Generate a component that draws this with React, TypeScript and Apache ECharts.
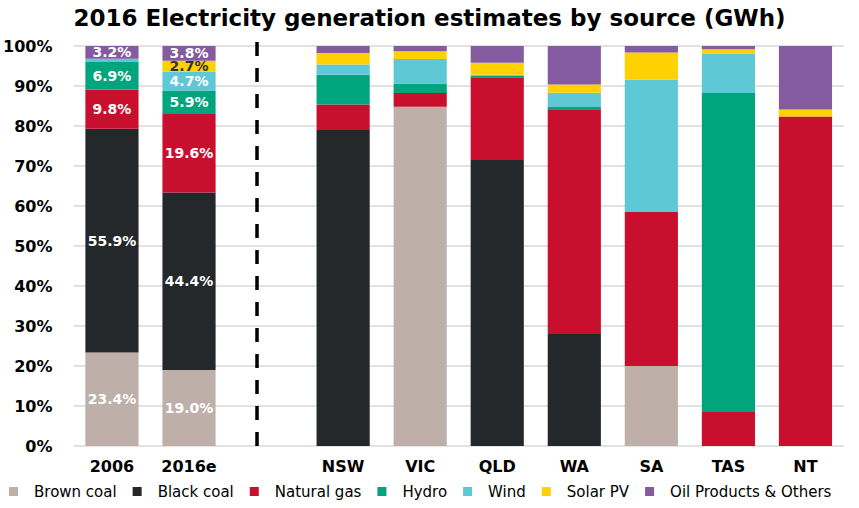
import React, { useEffect, useRef } from "react";
import * as echarts from "echarts";

const categories = ["2006", "2016e", "", "NSW", "VIC", "QLD", "WA", "SA", "TAS", "NT"];
const seriesNames = ["Brown coal", "Black coal", "Natural gas", "Hydro", "Wind", "Solar PV", "Oil Products & Others"];
const colors = ["#BEB0A8", "#25282B", "#C8102E", "#00A57D", "#5FC8D6", "#FFD100", "#845BA0"];

const brownCoal = [23.4, 19.0, null, 0, 84.8, 0, 0, 20.0, 0, 0];
const blackCoal = [55.9, 44.4, null, 79.0, 0, 71.5, 28.0, 0, 0, 0];
const naturalGas = [9.8, 19.6, null, 6.4, 3.45, 20.7, 56.2, 38.5, 8.5, 82.4];
const hydro = [6.9, 5.9, null, 7.4, 2.35, 0.4, 0.55, 0, 79.75, 0];
const wind = [0.8, 4.7, null, 2.6, 6.15, 0.2, 3.55, 33.1, 9.85, 0];
const solarPV = [0, 2.7, null, 2.85, 1.95, 3.0, 2.1, 6.8, 1.1, 1.7];
const oilOthers = [3.2, 3.8, null, 1.75, 1.3, 4.2, 9.6, 1.6, 0.8, 15.9];

const yTicks = [0, 10, 20, 30, 40, 50, 60, 70, 80, 90, 100];

const FONT = "DejaVu Sans";

export default function App() {
  const ref = useRef<HTMLDivElement>(null);
  useEffect(() => {
    if (!ref.current) return;
    const chart = echarts.init(ref.current, undefined, { renderer: "svg" });
    const all = [brownCoal, blackCoal, naturalGas, hydro, wind, solarPV, oilOthers];
    const series = all.map((arr, si) => ({
      name: seriesNames[si],
      type: "bar",
      stack: "total",
      barWidth: "69%",
      itemStyle: { color: colors[si] },
      data: arr.map((v, ci) => {
        const showLabel = ci < 2 && v != null && v >= 1;
        return {
          value: v,
          label: {
            show: showLabel,
            position: "inside",
            formatter: (p: any) => Number(p.value).toFixed(1) + "%",
            color: si === 5 ? "#333333" : "#FFFFFF",
            fontFamily: FONT,
            fontWeight: "bold",
            fontSize: 14,
          },
        };
      }),
    }));
    chart.setOption({
      animation: false,
      title: {
        text: "2016 Electricity generation estimates by source (GWh)",
        left: "center",
        top: 1,
        textStyle: { fontFamily: FONT, fontWeight: "bold", fontSize: 23, color: "#000" },
      },
      legend: {
        bottom: 4,
        left: 4,
        icon: "rect",
        itemWidth: 9,
        itemHeight: 9,
        itemGap: 16,
        data: seriesNames,
        textStyle: { fontFamily: FONT, fontSize: 15, color: "#000", padding: [0, 0, 0, 11] },
      },
      grid: { left: 71, right: 15, top: 46, bottom: 62, containLabel: false },
      xAxis: {
        type: "category",
        data: categories,
        axisLine: { show: false },
        axisTick: { show: false },
        axisLabel: { fontFamily: FONT, fontWeight: "bold", fontSize: 16, color: "#000", margin: 12 },
      },
      yAxis: {
        type: "value",
        min: yTicks[0],
        max: yTicks[yTicks.length - 1],
        interval: 10,
        axisLine: { show: false },
        axisTick: { show: false },
        splitLine: { lineStyle: { color: "#D9D9D9", width: 1.5 } },
        axisLabel: {
          fontFamily: FONT,
          fontWeight: "bold",
          fontSize: 16,
          color: "#000",
          margin: 21,
          formatter: (v: number) => v + "%",
        },
      },
      graphic: [
        {
          type: "line",
          shape: { x1: 257, y1: 42, x2: 257, y2: 447 },
          style: { stroke: "#000", lineWidth: 3.5, lineDash: [14, 12] },
          z: 10,
        },
      ],
      series,
    });
    return () => chart.dispose();
  }, []);
  return <div ref={ref} style={{ width: 859, height: 508, position: "absolute", left: 0, top: 0 }} />;
}
